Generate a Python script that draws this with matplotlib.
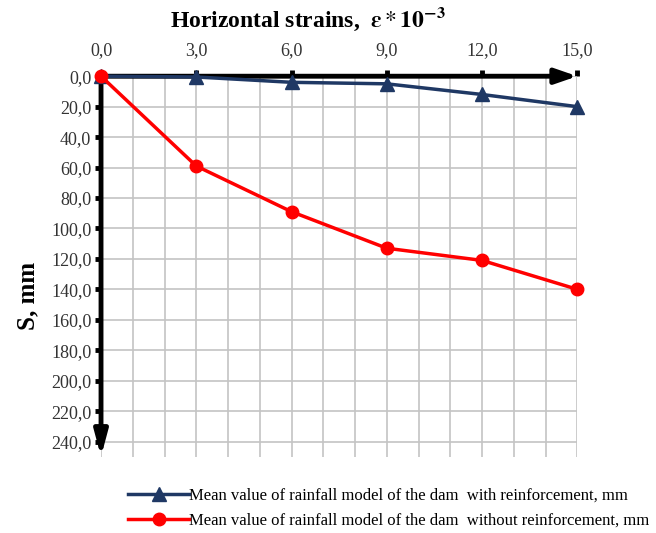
import matplotlib.pyplot as plt
from matplotlib.ticker import MultipleLocator, FuncFormatter

plt.rcParams['font.family'] = ['Liberation Serif', 'DejaVu Serif']
plt.rcParams['mathtext.fontset'] = 'stix'

strain = [0, 3, 6, 9, 12, 15]
s_with = [0, 0.5, 4, 5, 12, 20]
s_without = [0, 59, 89, 113, 121, 140]

lab_with = 'Mean value of rainfall model of the dam  with reinforcement, mm'
lab_without = 'Mean value of rainfall model of the dam  without reinforcement, mm'

fig = plt.figure(figsize=(6.56, 5.33), dpi=100)
ax = fig.add_axes([0.154, 0.143, 0.726, 0.714])

ax.plot(strain, s_with, color='#1f3864', lw=2.5, marker='^', ms=10,
        clip_on=False, zorder=4, label=lab_with)
ax.plot(strain, s_without, color='#ff0000', lw=2.5, marker='o', ms=9,
        clip_on=False, zorder=5, label=lab_without)

ax.set_xlim(0, 15)
ax.set_ylim(250, 0)
ax.xaxis.set_major_locator(MultipleLocator(3))
ax.xaxis.set_minor_locator(MultipleLocator(1))
ax.set_yticks(range(0, 241, 20))
fmt = FuncFormatter(lambda v, p: f'{v:.1f}'.replace('.', ','))
ax.xaxis.set_major_formatter(fmt)
ax.yaxis.set_major_formatter(fmt)
ax.xaxis.tick_top()
ax.tick_params(axis='both', which='major', labelsize=13, color='black',
               width=3.5, length=4, direction='out', pad=3)
ax.tick_params(axis='x', which='major', pad=8)
ax.tick_params(axis='both', which='major', labelcolor='#333333')
ax.tick_params(axis='x', which='minor', length=0)

ax.grid(True, which='both', color='#c4c4c4', lw=1.2)
ax.set_axisbelow(True)
for sp in ax.spines.values():
    sp.set_visible(False)

# axis arrows
ax.annotate('', xy=(15, 0), xytext=(0, 0), annotation_clip=False,
            arrowprops=dict(arrowstyle='-|>,head_length=1.3,head_width=0.45',
                            color='black', lw=3.5, shrinkA=0, shrinkB=0),
            zorder=3)
ax.annotate('', xy=(0, 250), xytext=(0, 0), annotation_clip=False,
            arrowprops=dict(arrowstyle='-|>,head_length=1.5,head_width=0.4',
                            color='black', lw=3.5, shrinkA=0, shrinkB=0),
            zorder=3)

fig.text(0.47, 0.963, r'Horizontal strains,  $\boldsymbol{\varepsilon} * \mathbf{10^{-3}}$',
         ha='center', va='center', fontsize=17, fontweight='bold')
fig.text(0.043, 0.445, 'S, mm', rotation=90, ha='center', va='center',
         fontsize=18, fontweight='bold')

fig.legend(loc='lower left', bbox_to_anchor=(0.172, -0.02), frameon=False,
           fontsize=12, handlelength=3.7, handletextpad=0.0,
           labelspacing=0.55)

fig.savefig('out.png', dpi=100)
